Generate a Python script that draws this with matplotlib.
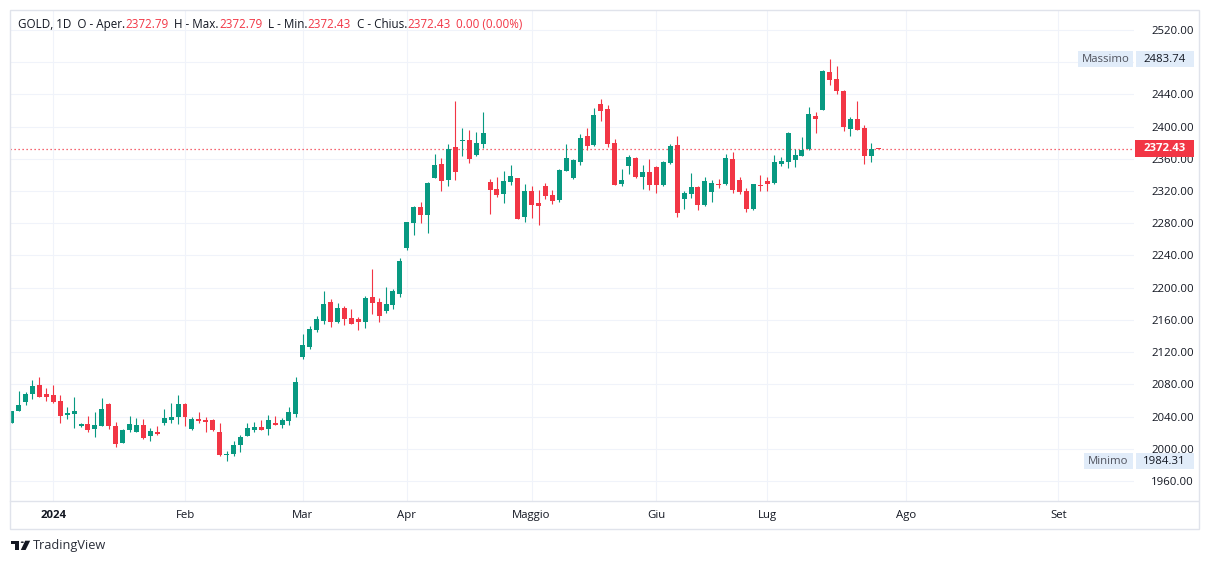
import matplotlib.pyplot as plt
from matplotlib.patches import Rectangle, Circle, Polygon

plt.rcParams['font.family'] = ['Open Sans', 'DejaVu Sans']

# daily OHLC (last bar = 2372.79 / 2372.43)
opens = [2032.4, 2047.0, 2058.5, 2068.4, 2079.2, 2068.1, 2066.8, 2059.4, 2042.4, 2043.6,
         2028.7, 2030.8, 2024.6, 2028.7, 2056.0, 2028.3, 2007.6, 2023.4, 2021.3, 2029.6,
         2016.3, 2021.3, 2032.4, 2036.2, 2039.9, 2056.0, 2024.6, 2037.0, 2036.2, 2035.8,
         2020.9, 1992.3, 1994.0, 2004.7, 2016.3, 2023.4, 2027.1, 2025.0, 2032.0, 2029.9,
         2034.9, 2043.6, 2114.4, 2126.8, 2147.5, 2158.7, 2182.3, 2157.5, 2174.8, 2162.4,
         2161.2, 2157.5, 2188.5, 2182.3, 2171.1, 2178.6, 2192.6, 2249.7, 2280.7, 2300.2,
         2290.7, 2336.6, 2353.6, 2334.1, 2374.7, 2382.6, 2383.4, 2365.2, 2378.8, 2331.3,
         2322.6, 2316.8, 2331.6, 2336.2, 2288.2, 2320.1, 2305.2, 2326.3, 2315.1, 2309.3,
         2345.3, 2336.6, 2356.5, 2388.4, 2377.6, 2428.1, 2421.9, 2379.7, 2329.2, 2351.5,
         2361.1, 2337.9, 2343.7, 2349.9, 2327.6, 2354.9, 2377.6, 2310.5, 2316.8, 2325.1,
         2303.1, 2319.2, 2328.0, 2328.8, 2359.8, 2333.8, 2320.1, 2298.1, 2327.6, 2332.5,
         2330.0, 2354.0, 2356.5, 2359.0, 2363.9, 2372.3, 2413.2, 2421.0, 2467.9, 2459.2,
         2444.6, 2397.5, 2409.5, 2398.3, 2363.9, 2372.79]
highs = [2047.0, 2071.8, 2070.2, 2085.4, 2089.2, 2075.5, 2079.2, 2066.8, 2051.9, 2064.3,
         2032.0, 2040.8, 2046.1, 2063.1, 2057.3, 2033.3, 2024.6, 2040.8, 2038.3, 2037.0,
         2025.8, 2028.7, 2049.4, 2056.9, 2066.8, 2057.3, 2039.5, 2045.7, 2039.5, 2036.5,
         2032.0, 1997.7, 2010.1, 2017.5, 2032.0, 2033.3, 2035.8, 2042.0, 2040.8, 2038.3,
         2051.9, 2089.2, 2142.6, 2152.5, 2164.9, 2195.9, 2186.0, 2181.0, 2177.3, 2173.6,
         2163.7, 2189.7, 2223.3, 2187.3, 2200.9, 2198.4, 2236.9, 2281.6, 2301.5, 2306.4,
         2331.3, 2366.0, 2361.1, 2378.5, 2431.8, 2398.3, 2395.8, 2393.4, 2418.2, 2335.0,
         2337.5, 2345.0, 2352.4, 2336.2, 2328.8, 2326.3, 2321.3, 2330.0, 2321.3, 2347.4,
         2378.5, 2359.8, 2390.9, 2398.3, 2423.2, 2434.3, 2426.9, 2384.7, 2347.4, 2364.8,
         2362.3, 2352.4, 2359.8, 2350.5, 2357.7, 2378.5, 2388.8, 2320.5, 2342.4, 2326.7,
         2337.5, 2333.8, 2335.0, 2366.0, 2368.5, 2337.9, 2323.8, 2328.8, 2339.9, 2337.9,
         2364.8, 2362.3, 2393.4, 2372.3, 2387.2, 2424.4, 2418.2, 2470.3, 2483.74, 2475.3,
         2445.5, 2412.0, 2431.8, 2402.0, 2379.7, 2372.79]
lows = [2032.4, 2047.0, 2054.4, 2062.2, 2064.0, 2059.8, 2057.3, 2032.4, 2037.0, 2026.2,
        2027.5, 2021.3, 2015.0, 2028.7, 2024.6, 2002.7, 2007.6, 2021.3, 2021.3, 2012.6,
        2010.1, 2017.5, 2030.0, 2032.4, 2031.2, 2028.7, 2023.4, 2032.4, 2021.3, 2022.5,
        1991.4, 1984.31, 1991.4, 1996.4, 2016.3, 2020.9, 2023.4, 2017.5, 2029.9, 2026.2,
        2030.0, 2040.0, 2111.5, 2123.9, 2145.0, 2155.0, 2151.3, 2156.2, 2153.7, 2155.3,
        2147.5, 2150.0, 2167.4, 2157.5, 2168.8, 2173.6, 2188.9, 2247.2, 2265.9, 2280.7,
        2268.3, 2336.6, 2320.5, 2326.7, 2334.1, 2363.9, 2355.2, 2363.9, 2373.9, 2291.9,
        2313.0, 2305.6, 2327.9, 2285.0, 2282.0, 2287.0, 2278.2, 2310.5, 2304.3, 2306.8,
        2345.3, 2335.4, 2352.8, 2371.4, 2376.4, 2407.0, 2375.1, 2327.6, 2326.7, 2341.6,
        2336.6, 2323.0, 2321.7, 2317.3, 2326.7, 2354.0, 2288.2, 2298.1, 2311.8, 2296.9,
        2301.9, 2306.8, 2324.2, 2327.6, 2318.0, 2316.8, 2294.4, 2296.9, 2320.5, 2320.5,
        2328.8, 2351.5, 2349.0, 2350.3, 2363.9, 2371.0, 2392.5, 2421.0, 2452.1, 2440.9,
        2395.0, 2388.8, 2396.2, 2354.0, 2356.5, 2372.43]
closes = [2047.0, 2054.4, 2068.4, 2078.0, 2064.7, 2064.0, 2058.1, 2041.1, 2044.8, 2047.0,
          2030.8, 2023.7, 2029.6, 2049.4, 2028.7, 2006.4, 2023.7, 2030.8, 2029.6, 2013.8,
          2022.1, 2018.8, 2038.3, 2039.5, 2056.0, 2039.9, 2037.0, 2034.9, 2033.7, 2023.7,
          1992.3, 1993.6, 2004.7, 2014.7, 2025.8, 2027.1, 2023.7, 2035.8, 2029.9, 2035.8,
          2045.7, 2083.0, 2128.9, 2148.8, 2161.2, 2179.8, 2157.5, 2174.8, 2161.2, 2155.3,
          2157.8, 2187.3, 2181.0, 2164.9, 2179.8, 2196.0, 2233.2, 2281.6, 2300.2, 2290.7,
          2330.0, 2352.4, 2332.9, 2372.3, 2344.1, 2383.4, 2360.2, 2379.7, 2392.1, 2321.7,
          2315.5, 2332.5, 2338.7, 2285.7, 2320.1, 2303.1, 2301.9, 2314.3, 2308.1, 2346.2,
          2361.1, 2358.6, 2385.9, 2376.4, 2414.5, 2419.4, 2378.8, 2327.6, 2333.8, 2362.3,
          2337.9, 2343.7, 2327.2, 2327.2, 2356.5, 2376.0, 2293.2, 2317.6, 2325.1, 2303.1,
          2332.5, 2330.0, 2327.2, 2361.1, 2321.7, 2319.2, 2298.1, 2328.8, 2326.7, 2329.2,
          2356.1, 2357.4, 2392.1, 2364.8, 2371.0, 2415.7, 2409.9, 2469.1, 2458.3, 2444.6,
          2399.9, 2409.5, 2396.2, 2363.9, 2372.3, 2372.43]

# month labels and the bar index where each month starts
month_labels = ['2024', 'Feb', 'Mar', 'Apr', 'Maggio', 'Giu', 'Lug', 'Ago', 'Set']
month_bars = [6, 25, 42, 57, 75, 93, 109, 129, 151]

price_ticks = list(range(1960, 2521, 40))

GREEN = '#089981'
RED = '#F23645'
TEXT = '#131722'
GRID = '#F0F3FA'
BORDER = '#E0E3EB'
LABEL_BG = '#E1ECF9'

W, H = 1209, 564
fig = plt.figure(figsize=(W / 100, H / 100), dpi=100)


def fx(px):
    return px / W


def fy(py):
    return 1 - py / H


ax = fig.add_axes([fx(10), fy(500.5), fx(1134) - fx(10), fy(10) - fy(500.5)])
ax.set_xlim(-0.245, 161.9)
ax.set_ylim(1935.8, 2544.8)

xs = list(range(len(opens)))
cols = [GREEN if c >= o else RED for o, c in zip(opens, closes)]
ax.vlines(xs, lows, highs, colors=cols, linewidth=0.8, zorder=3)
bottoms = [min(o, c) for o, c in zip(opens, closes)]
heights = [max(abs(c - o), 1.4) for o, c in zip(opens, closes)]
ax.bar(xs, heights, bottom=bottoms, width=0.72, color=cols, linewidth=0, zorder=4)

# last price dotted line
last = closes[-1]
ax.axhline(last, color=RED, linestyle=(0, (1, 2.2)), linewidth=0.9, zorder=2)

# grid and axes
ax.set_yticks(price_ticks)
ax.set_yticklabels(['' if p == 2480 else f'{p:.2f}' for p in price_ticks])
ax.yaxis.tick_right()
ax.set_xticks(month_bars)
ax.set_xticklabels(month_labels)
ax.tick_params(axis='y', length=0, pad=12.5, labelsize=8.2, labelcolor=TEXT)
ax.tick_params(axis='x', length=0, pad=7, labelsize=8.2, labelcolor=TEXT)
ax.get_xticklabels()[0].set_fontweight('bold')
ax.grid(True, color=GRID, linewidth=0.8, zorder=0)
ax.set_axisbelow(True)
for s in ax.spines.values():
    s.set_visible(False)

# frame lines
fig.patches.append(Rectangle((fx(9.5), fy(528.5)), fx(1198.5) - fx(9.5), fy(9.5) - fy(528.5),
                             transform=fig.transFigure, fill=False, edgecolor=BORDER, linewidth=1))
fig.add_artist(plt.Line2D([fx(10), fx(1198)], [fy(500.5), fy(500.5)], color=BORDER, linewidth=1))


def price_py(p):
    # price -> pixel row (from top)
    return H - ax.transData.transform((0, p))[1]


def label_box(x0, x1, p, face, text, color, weight='normal', h=16):
    py = price_py(p)
    fig.patches.append(Rectangle((fx(x0), fy(py + h / 2)), fx(x1) - fx(x0), h / H,
                                 transform=fig.transFigure, facecolor=face, edgecolor='none', zorder=5))
    fig.text(fx((x0 + x1) / 2), fy(py), text, ha='center', va='center', fontsize=8.2,
             color=color, fontweight=weight, zorder=6)


label_box(1078, 1133, max(highs), LABEL_BG, 'Massimo', '#50535E')
label_box(1135.5, 1193.5, max(highs), LABEL_BG, f'{max(highs):.2f}', TEXT)
label_box(1084, 1133, min(lows), LABEL_BG, 'Minimo', '#50535E')
label_box(1135.5, 1193.5, min(lows), LABEL_BG, f'{min(lows):.2f}', TEXT)
label_box(1135, 1194, last, RED, f'{last:.2f}', 'white', weight='bold', h=17)

# header legend
parts = [('GOLD, 1D  O - Aper.', TEXT), (f'{opens[-1]:.2f}', RED),
         ('  H - Max.', TEXT), (f'{highs[-1]:.2f}', RED),
         ('  L - Min.', TEXT), (f'{lows[-1]:.2f}', RED),
         ('  C - Chius.', TEXT), (f'{closes[-1]:.2f}', RED),
         (f'  {closes[-1] - lows[-1]:.2f} (0.00%)', RED)]
renderer = fig.canvas.get_renderer()
cx = 18
for s, c in parts:
    t = fig.text(fx(cx), fy(24.5), s, ha='left', va='center', fontsize=8.35, color=c)
    cx += t.get_window_extent(renderer).width

# TradingView logo
logo = '#131722'
fig.patches.append(Rectangle((fx(10.8), fy(543.5)), 8.6 / W, 2.8 / H, transform=fig.transFigure,
                             facecolor=logo, edgecolor='none'))
fig.patches.append(Rectangle((fx(15.2), fy(550)), 4.2 / W, 9.3 / H, transform=fig.transFigure,
                             facecolor=logo, edgecolor='none'))
fig.patches.append(Circle((fx(22.3), fy(542.2)), 1.6 / W, transform=fig.transFigure,
                          facecolor=logo, edgecolor='none'))
fig.patches.append(Polygon([(fx(25.2), fy(540.7)), (fx(30.2), fy(540.7)), (fx(25.6), fy(550)),
                            (fx(20.8), fy(550))], closed=True, transform=fig.transFigure,
                           facecolor=logo, edgecolor='none'))
fig.text(fx(32.5), fy(546), 'TradingView', ha='left', va='center', fontsize=9.2, color='#2A2E39')

fig.savefig('out.png', dpi=100, facecolor='white')
